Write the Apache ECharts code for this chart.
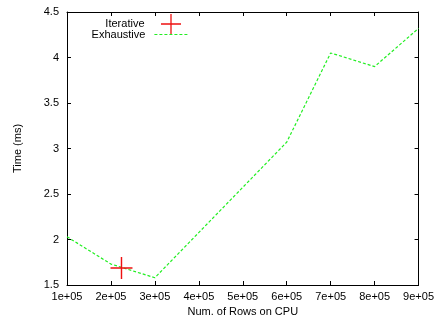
<!DOCTYPE html>
<html>
<head>
<meta charset="utf-8">
<script src="https://cdn.jsdelivr.net/npm/echarts@6/dist/echarts.min.js"></script>
<style>
html,body{margin:0;padding:0;background:#fff;}
#main{width:437px;height:325px;}
</style>
</head>
<body>
<div id="main"></div>
<script>
// data
var rows = [100000, 200000, 300000, 600000, 700000, 800000, 900000];
var exhaustive = [2.03, 1.73, 1.58, 3.07, 4.05, 3.90, 4.32];
var iterRows = [224000];
var iterative = [1.687];

var plus = 'path://M0,9.35H20V10.65H0Z M9.35,0H10.65V20H9.35Z';
var font = 'Liberation Sans, Arial, Helvetica, sans-serif';

var chart = echarts.init(document.getElementById('main'), null, {renderer: 'canvas'});

function xlab(v) {
	return (v / 100000) + 'e+05';
}

var tickIn = {show: true, inside: true, length: 4, lineStyle: {color: '#000', width: 1}};
var lineBlack = {show: true, lineStyle: {color: '#000', width: 1}};

var option = {
	animation: false,
	backgroundColor: '#fff',
	textStyle: {fontFamily: font},
	grid: {left: 67, right: 16, top: 12, bottom: 40},
	legend: [
		{
			data: [{name: 'Iterative', icon: plus}],
			align: 'right',
			right: 256,
			top: 14,
			padding: 0,
			itemWidth: 35,
			itemHeight: 20,
			textStyle: {fontSize: 11, color: '#000', fontFamily: font, padding: [0, 4, 0, 0]}
		},
		{
			data: [{name: 'Exhaustive', itemStyle: {opacity: 0}, lineStyle: {width: 1.2}}],
			align: 'right',
			right: 247,
			top: 29,
			padding: 0,
			itemWidth: 35,
			itemHeight: 10,
			textStyle: {fontSize: 11, color: '#000', fontFamily: font, padding: [0, 4, 0, 0]}
		}
	],
	xAxis: [
		{
			type: 'value',
			min: 100000,
			max: 900000,
			interval: 100000,
			name: 'Num. of Rows on CPU',
			nameLocation: 'middle',
			nameGap: 21,
			nameTextStyle: {fontSize: 11, color: '#000', fontFamily: font},
			axisLine: lineBlack,
			axisTick: tickIn,
			splitLine: {show: false},
			axisLabel: {fontSize: 11, color: '#000', margin: 6, formatter: xlab, fontFamily: font}
		},
		{
			type: 'value',
			position: 'top',
			min: 100000,
			max: 900000,
			interval: 100000,
			axisLine: lineBlack,
			axisTick: tickIn,
			splitLine: {show: false},
			axisLabel: {show: false}
		}
	],
	yAxis: [
		{
			type: 'value',
			min: 1.5,
			max: 4.5,
			interval: 0.5,
			name: 'Time (ms)',
			nameLocation: 'middle',
			nameGap: 44,
			nameTextStyle: {fontSize: 11, color: '#000', fontFamily: font},
			axisLine: lineBlack,
			axisTick: tickIn,
			splitLine: {show: false},
			axisLabel: {fontSize: 11, color: '#000', margin: 8, fontFamily: font}
		},
		{
			type: 'value',
			position: 'right',
			min: 1.5,
			max: 4.5,
			interval: 0.5,
			axisLine: lineBlack,
			axisTick: tickIn,
			splitLine: {show: false},
			axisLabel: {show: false}
		}
	],
	series: [
		{
			name: 'Iterative',
			type: 'scatter',
			symbol: plus,
			symbolSize: 22,
			z: 3,
			itemStyle: {color: '#ee1111', opacity: 1},
			data: iterRows.map(function (x, i) { return [x, iterative[i]]; })
		},
		{
			name: 'Exhaustive',
			type: 'line',
			symbol: 'none',
			z: 2,
			lineStyle: {color: '#22ee22', width: 1.2, type: [3, 2]},
			itemStyle: {color: '#22ee22'},
			data: rows.map(function (x, i) { return [x, exhaustive[i]]; })
		}
	]
};

chart.setOption(option);
</script>
</body>
</html>
